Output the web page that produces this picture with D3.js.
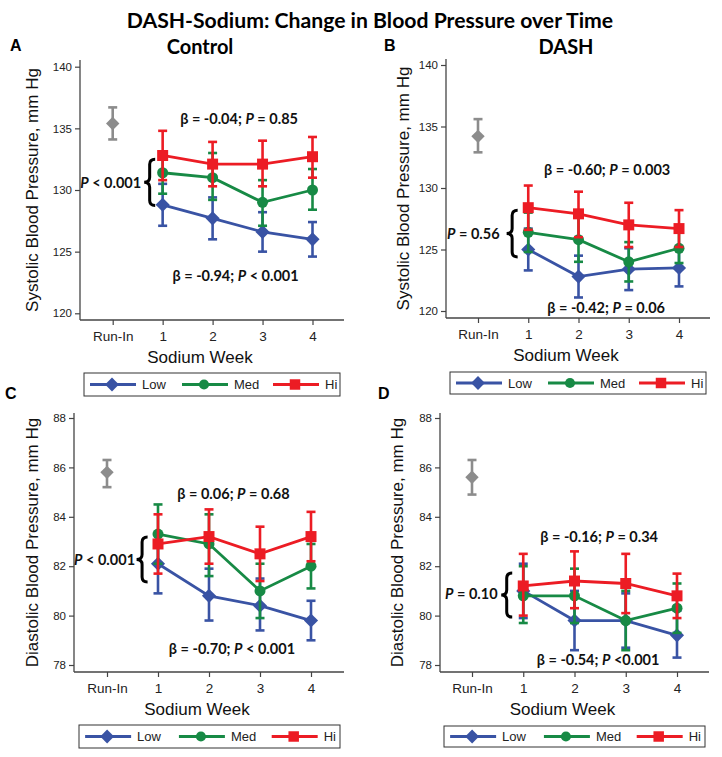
<!DOCTYPE html>
<html>
<head>
<meta charset="utf-8">
<script src="https://cdn.jsdelivr.net/npm/d3@7"></script>
<style>
body{margin:0;background:#fff;}
text{font-family:"Liberation Sans",Arial,sans-serif;}
.ann{font-family:Lato,"Open Sans",sans-serif;font-weight:bold;}
</style>
</head>
<body>
<script>
let width = 722, height = 757;

// categories
const xLabels = ["Run-In","1","2","3","4"];
const weeks = ["1","2","3","4"];
const groups = ["Low","Med","Hi"];
const groupColors = {Low:"#3953a4", Med:"#178a45", Hi:"#ec1c24"};
const groupSymbols = {Low:"diamond", Med:"circle", Hi:"square"};
const runInColor = "#8c8c8c";

// A: systolic, control diet  (mean, then [lower, upper])
const sbpCtlRunIn = [135.4, 134.1, 136.7];
const sbpCtlLow = [128.8, 127.7, 126.6, 126.0];
const sbpCtlLowCI = [[127.1,130.5],[126.0,129.4],[125.0,128.2],[124.6,127.4]];
const sbpCtlMed = [131.4, 131.0, 129.0, 130.0];
const sbpCtlMedCI = [[129.7,133.1],[129.2,133.0],[127.1,130.8],[128.4,131.7]];
const sbpCtlHi = [132.8, 132.1, 132.1, 132.7];
const sbpCtlHiCI = [[130.8,134.8],[130.3,133.9],[130.3,134.0],[131.0,134.3]];

// B: systolic, DASH diet
const sbpDashRunIn = [134.2, 132.9, 135.6];
const sbpDashLow = [125.0, 122.8, 123.4, 123.5];
const sbpDashLowCI = [[123.3,126.7],[121.1,124.5],[121.7,125.1],[122.0,125.0]];
const sbpDashMed = [126.4, 125.8, 124.0, 125.1];
const sbpDashMedCI = [[124.8,128.0],[124.0,127.6],[122.4,125.6],[123.9,126.4]];
const sbpDashHi = [128.4, 127.9, 127.0, 126.7];
const sbpDashHiCI = [[126.6,130.2],[126.0,129.7],[125.2,128.8],[125.2,128.2]];

// C: diastolic, control diet
const dbpCtlRunIn = [85.8, 85.2, 86.3];
const dbpCtlLow = [82.1, 80.8, 80.4, 79.8];
const dbpCtlLowCI = [[80.9,83.3],[79.8,81.9],[79.4,81.5],[79.0,80.6]];
const dbpCtlMed = [83.3, 82.9, 81.0, 82.0];
const dbpCtlMedCI = [[82.1,84.5],[81.6,84.1],[79.9,82.1],[81.1,82.9]];
const dbpCtlHi = [82.9, 83.2, 82.5, 83.2];
const dbpCtlHiCI = [[81.7,84.1],[82.1,84.3],[81.4,83.6],[82.2,84.2]];

// D: diastolic, DASH diet
const dbpDashRunIn = [85.6, 84.9, 86.3];
const dbpDashLow = [81.0, 79.8, 79.8, 79.2];
const dbpDashLowCI = [[79.9,82.1],[78.6,81.0],[78.7,80.9],[78.3,80.2]];
const dbpDashMed = [80.8, 80.8, 79.8, 80.3];
const dbpDashMedCI = [[79.7,82.0],[79.7,81.9],[78.6,81.0],[79.3,81.3]];
const dbpDashHi = [81.2, 81.4, 81.3, 80.8];
const dbpDashHiCI = [[80.0,82.5],[80.3,82.6],[80.1,82.5],[79.9,81.7]];

// tick labels
const sbpTicks = [120,125,130,135,140];
const dbpTicks = [78,80,82,84,86,88];

// annotation texts
const betaTop = ["β = -0.04; P = 0.85","β = -0.60; P = 0.003","β = 0.06; P = 0.68","β = -0.16; P = 0.34"];
const betaBottom = ["β = -0.94; P < 0.001","β = -0.42; P = 0.06","β = -0.70; P < 0.001","β = -0.54; P <0.001"];
const pGroup = ["P < 0.001","P = 0.56","P < 0.001","P = 0.10"];

let panels = [
  {letter:"A", heading:"Control", yLabel:"Systolic Blood Pressure, mm Hg", yDomain:[120,140], ticks:sbpTicks,
   runIn:sbpCtlRunIn, series:{Low:[sbpCtlLow,sbpCtlLowCI], Med:[sbpCtlMed,sbpCtlMedCI], Hi:[sbpCtlHi,sbpCtlHiCI]},
   ann:{top:[2.53,135.8], bottom:[2.46,123.07], p:[0.57,130.6], brace:[0.63,132.5,128.75]},
   L:{ax:80, xr:[112.7,312.5], yr:[313.3,66.7], ay:320, top:60, right:344, ylx:32, legend:[84,373,256,23]}},
  {letter:"B", heading:"DASH", yLabel:"Systolic Blood Pressure, mm Hg", yDomain:[120,140], ticks:sbpTicks,
   runIn:sbpDashRunIn, series:{Low:[sbpDashLow,sbpDashLowCI], Med:[sbpDashMed,sbpDashMedCI], Hi:[sbpDashHi,sbpDashHiCI]},
   ann:{top:[2.57,131.45], bottom:[2.55,120.27], p:[0.43,126.3], brace:[0.57,128.2,124.4]},
   L:{ax:446, xr:[478,679], yr:[311,65], ay:318, top:59, right:710, ylx:403, legend:[450,372,256,22]}},
  {letter:"C", heading:null, yLabel:"Diastolic Blood Pressure, mm Hg", yDomain:[78,88], ticks:dbpTicks,
   runIn:dbpCtlRunIn, series:{Low:[dbpCtlLow,dbpCtlLowCI], Med:[dbpCtlMed,dbpCtlMedCI], Hi:[dbpCtlHi,dbpCtlHiCI]},
   ann:{top:[2.48,84.92], bottom:[2.45,78.65], p:[0.55,82.25], brace:[0.58,83.18,81.36]},
   L:{ax:74, xr:[107,311], yr:[665,418], ay:672, top:413, right:344, ylx:32, legend:[79,725,261,23]}},
  {letter:"D", heading:null, yLabel:"Diastolic Blood Pressure, mm Hg", yDomain:[78,88], ticks:dbpTicks,
   runIn:dbpDashRunIn, series:{Low:[dbpDashLow,dbpDashLowCI], Med:[dbpDashMed,dbpDashMedCI], Hi:[dbpDashHi,dbpDashHiCI]},
   ann:{top:[2.48,83.19], bottom:[2.46,78.2], p:[0.5,80.87], brace:[0.57,81.72,79.94]},
   L:{ax:440, xr:[472,677], yr:[665,418], ay:672, top:413, right:709, ylx:397, legend:[444,726,261,21]}}
];

let svg = d3.select("body").append("svg").attr("width",width).attr("height",height);

svg.append("text").attr("class","ann").attr("x",370).attr("y",28).attr("text-anchor","middle")
  .style("font-size","21.2px").text("DASH-Sodium: Change in Blood Pressure over Time");

function marker(sel,kind,color,size){
  if(kind=="circle"){
    sel.append("circle").attr("r",Math.sqrt(size/Math.PI)).attr("fill",color);
  } else if(kind=="square"){
    sel.append("path").attr("d",d3.symbol(d3.symbolSquare,size)()).attr("fill",color);
  } else {
    sel.append("path").attr("d",d3.symbol(d3.symbolSquare,size)()).attr("transform","rotate(45)").attr("fill",color);
  }
}

function pText(sel,str){
  // italicise the P
  let parts = str.split("P");
  parts.forEach((s,i)=>{
    if(i>0) sel.append("tspan").style("font-style","italic").text("P");
    if(s.length) sel.append("tspan").text(s);
  });
}

function errBar(g,cx,lo,hi,color){
  g.append("line").attr("x1",cx).attr("x2",cx).attr("y1",lo).attr("y2",hi)
    .attr("stroke",color).attr("stroke-width",2.6);
  [lo,hi].forEach(v=>{
    g.append("line").attr("x1",cx-4.5).attr("x2",cx+4.5).attr("y1",v).attr("y2",v)
      .attr("stroke",color).attr("stroke-width",2.6);
  });
}

panels.forEach(p=>{
  let L = p.L;
  let g = svg.append("g");
  let x = d3.scalePoint().domain(xLabels).range(L.xr);
  let y = d3.scaleLinear().domain(p.yDomain).range(L.yr);
  let xf = v => x("Run-In") + v*x.step();

  // panel letter + heading
  g.append("text").attr("x",L.legend[0]-( p.letter=="A"||p.letter=="C" ? 74 : 66)).attr("y",p.letter<"C"?51:399)
    .style("font-weight","bold").style("font-size","16px").text(p.letter);
  if(p.heading){
    g.append("text").attr("class","ann").attr("x",(L.ax+L.right)/2-12).attr("y",54)
      .attr("text-anchor","middle").style("font-size","20px").text(p.heading);
  }

  // axes
  let ya = g.append("g").attr("transform",`translate(${L.ax},0)`)
    .call(d3.axisLeft(y).tickValues(p.ticks).tickSize(5).tickPadding(3));
  let xa = g.append("g").attr("transform",`translate(0,${L.ay})`)
    .call(d3.axisBottom(x).tickSize(5).tickPadding(6));
  [ya,xa].forEach(a=>{
    a.select(".domain").remove();
    a.selectAll(".tick line").attr("stroke","#444").attr("stroke-width",1.2);
    a.selectAll(".tick text").attr("fill","#222").style("font-family",'"Liberation Sans",Arial,sans-serif');
  });
  ya.selectAll(".tick text").style("font-size","11.5px");
  xa.selectAll(".tick text").style("font-size","13.5px");
  g.append("line").attr("x1",L.ax).attr("x2",L.ax).attr("y1",L.top).attr("y2",L.ay)
    .attr("stroke","#444").attr("stroke-width",1.3);
  g.append("line").attr("x1",L.ax).attr("x2",L.right).attr("y1",L.ay).attr("y2",L.ay)
    .attr("stroke","#444").attr("stroke-width",1.3);

  g.append("text").attr("transform",`translate(${L.ylx},${(L.top+L.ay)/2}) rotate(-90)`)
    .attr("text-anchor","middle").attr("dy","0.35em").style("font-size","17px").attr("fill","#111").text(p.yLabel);
  g.append("text").attr("x",(L.ax+L.right)/2-12).attr("y",L.ay+43).attr("text-anchor","middle")
    .style("font-size","17px").attr("fill","#111").text("Sodium Week");

  // run-in point
  let r = p.runIn;
  errBar(g,x("Run-In"),y(r[1]),y(r[2]),runInColor);
  marker(g.append("g").attr("transform",`translate(${x("Run-In")},${y(r[0])})`),"diamond",runInColor,90);

  // series
  groups.forEach(k=>{
    let [mean,ci] = p.series[k];
    let c = groupColors[k];
    weeks.forEach((w,i)=>errBar(g,x(w),y(ci[i][0]),y(ci[i][1]),c));
    g.append("path").datum(mean)
      .attr("d",d3.line().x((d,i)=>x(weeks[i])).y(d=>y(d)))
      .attr("fill","none").attr("stroke",c).attr("stroke-width",2.8);
    weeks.forEach((w,i)=>{
      marker(g.append("g").attr("transform",`translate(${x(w)},${y(mean[i])})`),groupSymbols[k],c,
        k=="Hi"?121:(k=="Med"?95:100));
    });
  });

  // annotations
  let idx = panels.indexOf(p);
  let a = p.ann;
  pText(g.append("text").attr("class","ann").attr("x",xf(a.top[0])).attr("y",y(a.top[1])).attr("dy","0.35em")
    .attr("text-anchor","middle").style("font-size","14.5px").attr("fill","#111"), betaTop[idx]);
  pText(g.append("text").attr("class","ann").attr("x",xf(a.bottom[0])).attr("y",y(a.bottom[1])).attr("dy","0.35em")
    .attr("text-anchor","middle").style("font-size","14.5px").attr("fill","#111"), betaBottom[idx]);
  pText(g.append("text").attr("class","ann").attr("x",xf(a.p[0])).attr("y",y(a.p[1])).attr("dy","0.35em")
    .attr("text-anchor","end").style("font-size","14.5px").attr("fill","#111"), pGroup[idx]);

  // curly brace
  let bx = xf(a.brace[0]), y1 = y(a.brace[1]), y2 = y(a.brace[2]), ym = (y1+y2)/2, w = 11, q = 5;
  let bp = d3.path();
  bp.moveTo(bx+w,y1);
  bp.quadraticCurveTo(bx+w/2,y1,bx+w/2,y1+q);
  bp.lineTo(bx+w/2,ym-q);
  bp.quadraticCurveTo(bx+w/2,ym,bx,ym);
  bp.quadraticCurveTo(bx+w/2,ym,bx+w/2,ym+q);
  bp.lineTo(bx+w/2,y2-q);
  bp.quadraticCurveTo(bx+w/2,y2,bx+w,y2);
  g.append("path").attr("d",bp.toString()).attr("fill","none").attr("stroke","#000").attr("stroke-width",3);

  // legend
  let [lx,ly,lw,lh] = L.legend;
  let lg = g.append("g").attr("transform",`translate(${lx},${ly})`);
  lg.append("rect").attr("width",lw).attr("height",lh).attr("fill","#fff").attr("stroke","#333").attr("stroke-width",1);
  let offs = [6,98,189];
  groups.forEach((k,i)=>{
    let o = offs[i]*lw/256;
    let c = groupColors[k];
    lg.append("line").attr("x1",o).attr("x2",o+46).attr("y1",lh/2).attr("y2",lh/2).attr("stroke",c).attr("stroke-width",2.8);
    marker(lg.append("g").attr("transform",`translate(${o+22},${lh/2})`),groupSymbols[k],c,k=="Hi"?110:(k=="Med"?80:95));
    lg.append("text").attr("x",o+52).attr("y",lh/2).attr("dy","0.36em").style("font-size","13px").attr("fill","#222").text(k);
  });
});
</script>
</body>
</html>
